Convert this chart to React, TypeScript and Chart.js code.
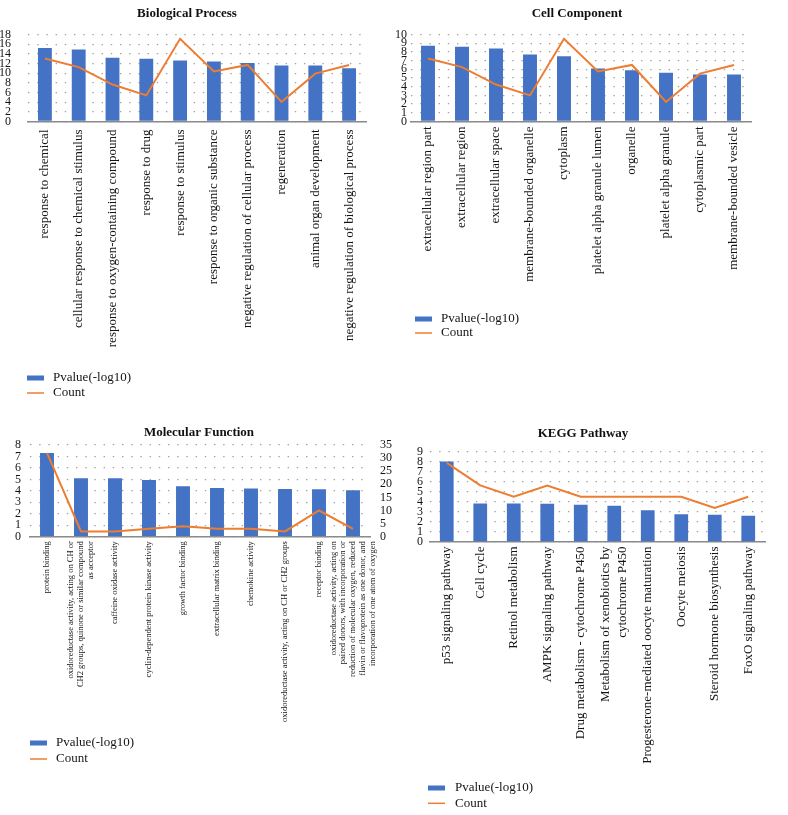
import React, { useEffect, useRef } from "react";
import { Chart, registerables } from "chart.js";

Chart.register(...registerables);

const FONT = '"Liberation Serif", "Times New Roman", serif';
const BAR_COLOR = "#4472C4";
const LINE_COLOR = "#ED7D31";
const GRID_COLOR = "#a2a2a2";
const AXIS_COLOR = "#8a8a8a";
const TEXT_COLOR = "#141414";

// ---------- Biological Process ----------
const BP_LABELS = [
  "response to chemical",
  "cellular response to chemical stimulus",
  "response to oxygen-containing compound",
  "response to drug",
  "response to stimulus",
  "response to organic substance",
  "negative regulation of cellular process",
  "regeneration",
  "animal organ development",
  "negative regulation of biological process",
];
const BP_PVALUE = [15.2, 14.9, 13.2, 13.0, 12.6, 12.4, 12.1, 11.6, 11.6, 11.0];
const BP_COUNT = [29, 25, 17, 12, 38, 23, 26, 9, 22, 26];

// ---------- Cell Component ----------
const CC_LABELS = [
  "extracellular region part",
  "extracellular region",
  "extracellular space",
  "membrane-bounded organelle",
  "cytoplasm",
  "platelet alpha granule lumen",
  "organelle",
  "platelet alpha granule",
  "cytoplasmic part",
  "membrane-bounded vesicle",
];
const CC_PVALUE = [8.7, 8.6, 8.4, 7.7, 7.5, 6.1, 5.9, 5.6, 5.4, 5.4];
const CC_COUNT = [29, 25, 17, 12, 38, 23, 26, 9, 22, 26];

// ---------- Molecular Function ----------
const MF_LABELS: (string | string[])[] = [
  "protein binding",
  ["oxidoreductase activity, acting on CH or", "CH2 groups, quinone or similar compound", "as acceptor"],
  "caffeine oxidase activity",
  "cyclin-dependent protein kinase activity",
  "growth factor binding",
  "extracellular matrix binding",
  "chemokine activity",
  "oxidoreductase activity, acting on CH or CH2 groups",
  "receptor binding",
  [
    "oxidoreductase activity, acting on",
    "paired donors, with incorporation or",
    "reduction of molecular oxygen, reduced",
    "flavin or flavoprotein as one donor, and",
    "incorporation of one atom of oxygen",
  ],
];
const MF_PVALUE = [7.3, 5.1, 5.1, 4.95, 4.4, 4.25, 4.2, 4.17, 4.15, 4.05];
const MF_COUNT = [32, 2, 2, 3, 4, 3, 3, 2, 10, 3];

// ---------- KEGG Pathway ----------
const KEGG_LABELS: (string | string[])[] = [
  "p53 signaling pathway",
  "Cell cycle",
  "Retinol metabolism",
  "AMPK signaling pathway",
  "Drug metabolism - cytochrome P450",
  ["Metabolism of xenobiotics by", "cytochrome P450"],
  "Progesterone-mediated oocyte maturation",
  "Oocyte meiosis",
  "Steroid hormone biosynthesis",
  "FoxO signaling pathway",
];
const KEGG_PVALUE = [8.0, 3.83, 3.83, 3.8, 3.7, 3.6, 3.15, 2.75, 2.7, 2.6];
const KEGG_COUNT = [7, 5, 4, 5, 4, 4, 4, 4, 3, 4];

const SERIES_NAMES = ["Pvalue(-log10)", "Count"];

type Panel = {
  title: string;
  labels: (string | string[])[];
  pvalue: number[];
  count: number[];
  leftMax: number;
  leftStep: number;
  rightMax: number;
  rightStep: number;
  x: number;
  y: number;
  w: number;
  h: number;
  padL: number;
  padR: number;
  area: { left: number; right: number; top: number; bottom: number };
  titleCenterY: number;
  leftTickPad: number;
  rightTickPad: number;
  labelFont: number;
  labelLH: number;
  labelGap: number;
  legend: { boxX: number; textX: number; y1: number; y2: number };
};

const PANELS: Panel[] = [
  {
    title: "Biological Process",
    labels: BP_LABELS,
    pvalue: BP_PVALUE,
    count: BP_COUNT,
    leftMax: 18,
    leftStep: 2,
    rightMax: 40,
    rightStep: 5,
    x: 0,
    y: 0,
    w: 394,
    h: 410,
    padL: 0,
    padR: 20,
    area: { left: 28, right: 366, top: 34.5, bottom: 121.5 },
    titleCenterY: 14,
    leftTickPad: 17,
    rightTickPad: 10,
    labelFont: 13,
    labelLH: 15,
    labelGap: 8,
    legend: { boxX: 27, textX: 53, y1: 378, y2: 393 },
  },
  {
    title: "Cell Component",
    labels: CC_LABELS,
    pvalue: CC_PVALUE,
    count: CC_COUNT,
    leftMax: 10,
    leftStep: 1,
    rightMax: 40,
    rightStep: 5,
    x: 394,
    y: 0,
    w: 394,
    h: 410,
    padL: 0,
    padR: 28,
    area: { left: 17, right: 357, top: 34.5, bottom: 121.5 },
    titleCenterY: 14,
    leftTickPad: 4,
    rightTickPad: 9,
    labelFont: 13,
    labelLH: 15,
    labelGap: 5,
    legend: { boxX: 21, textX: 47, y1: 319, y2: 333 },
  },
  {
    title: "Molecular Function",
    labels: MF_LABELS,
    pvalue: MF_PVALUE,
    count: MF_COUNT,
    leftMax: 8,
    leftStep: 1,
    rightMax: 35,
    rightStep: 5,
    x: 0,
    y: 410,
    w: 394,
    h: 405,
    padL: 4,
    padR: 0,
    area: { left: 30, right: 370, top: 35, bottom: 126.7 },
    titleCenterY: 22.7,
    leftTickPad: 9,
    rightTickPad: 10,
    labelFont: 8.5,
    labelLH: 9.8,
    labelGap: 4.5,
    legend: { boxX: 30, textX: 56, y1: 333, y2: 349 },
  },
  {
    title: "KEGG Pathway",
    labels: KEGG_LABELS,
    pvalue: KEGG_PVALUE,
    count: KEGG_COUNT,
    leftMax: 9,
    leftStep: 1,
    rightMax: 8,
    rightStep: 1,
    x: 394,
    y: 410,
    w: 394,
    h: 405,
    padL: 0,
    padR: 16,
    area: { left: 36, right: 371, top: 41.5, bottom: 132 },
    titleCenterY: 24,
    leftTickPad: 7,
    rightTickPad: 9,
    labelFont: 13,
    labelLH: 16.5,
    labelGap: 4.5,
    legend: { boxX: 34, textX: 61, y1: 378, y2: 393.3 },
  },
];

function buildConfig(p: Panel): any {
  const titleSize = 13;
  const titleLH = titleSize * 1.2;
  const titleTop = p.titleCenterY - titleLH / 2;
  const titleBottom = p.area.top - titleTop - titleLH;

  const catLabels = {
    id: "catLabels",
    afterDraw(chart: any) {
      const xs = chart.scales.x;
      const ctx = chart.ctx;
      ctx.save();
      ctx.fillStyle = TEXT_COLOR;
      ctx.font = `${p.labelFont}px ${FONT}`;
      ctx.textAlign = "right";
      ctx.textBaseline = "middle";
      const labels = chart.data.labels as (string | string[])[];
      labels.forEach((lab, i) => {
        const lines = Array.isArray(lab) ? lab : [lab];
        const px = xs.getPixelForValue(i);
        ctx.save();
        ctx.translate(px, xs.top + p.labelGap);
        ctx.rotate(-Math.PI / 2);
        const n = lines.length;
        lines.forEach((ln, j) => {
          ctx.fillText(ln, 0, (j - (n - 1) / 2) * p.labelLH);
        });
        ctx.restore();
      });
      ctx.restore();
    },
  };

  const legendPlugin = {
    id: "stackedLegend",
    afterDraw(chart: any) {
      const ctx = chart.ctx;
      const ds = chart.data.datasets;
      const L = p.legend;
      ctx.save();
      ctx.fillStyle = BAR_COLOR;
      ctx.fillRect(L.boxX, L.y1 - 2.5, 17, 5);
      ctx.strokeStyle = LINE_COLOR;
      ctx.lineWidth = 1.5;
      ctx.beginPath();
      ctx.moveTo(L.boxX, L.y2);
      ctx.lineTo(L.boxX + 17, L.y2);
      ctx.stroke();
      ctx.fillStyle = TEXT_COLOR;
      ctx.font = `13px ${FONT}`;
      ctx.textAlign = "left";
      ctx.textBaseline = "middle";
      ctx.fillText(ds[0].label, L.textX, L.y1);
      ctx.fillText(ds[1].label, L.textX, L.y2);
      ctx.restore();
    },
  };

  const tickFont = { family: FONT, size: 12 };

  return {
    type: "bar",
    data: {
      labels: p.labels,
      datasets: [
        {
          type: "bar",
          label: SERIES_NAMES[0],
          data: p.pvalue,
          backgroundColor: BAR_COLOR,
          yAxisID: "y",
          order: 2,
          categoryPercentage: 1,
          barPercentage: 0.41,
        },
        {
          type: "line",
          label: SERIES_NAMES[1],
          data: p.count,
          borderColor: LINE_COLOR,
          backgroundColor: LINE_COLOR,
          borderWidth: 2,
          pointRadius: 0,
          tension: 0,
          fill: false,
          yAxisID: "y1",
          order: 1,
        },
      ],
    },
    options: {
      responsive: false,
      animation: false,
      devicePixelRatio: 1,
      layout: { padding: { left: p.padL, right: p.padR, top: 0, bottom: 0 } },
      plugins: {
        legend: { display: false },
        tooltip: { enabled: false },
        title: {
          display: true,
          text: p.title,
          color: "#111",
          font: { family: FONT, size: titleSize, weight: "bold", lineHeight: 1.2 },
          padding: { top: titleTop, bottom: titleBottom },
        },
      },
      scales: {
        x: {
          type: "category",
          offset: true,
          grid: { display: false, drawTicks: false },
          border: { display: true, color: AXIS_COLOR, width: 1.6 },
          ticks: { display: false },
          afterFit: (s: any) => {
            s.height = p.h - p.area.bottom;
          },
        },
        y: {
          type: "linear",
          position: "left",
          min: 0,
          max: p.leftMax,
          ticks: {
            stepSize: p.leftStep,
            autoSkip: false,
            padding: p.leftTickPad,
            font: tickFont,
            color: TEXT_COLOR,
          },
          grid: { color: GRID_COLOR, lineWidth: 1.3, drawTicks: false },
          border: { display: false, dash: [1.4, 7.8] },
          afterFit: (s: any) => {
            s.width = p.area.left - p.padL;
          },
        },
        y1: {
          type: "linear",
          position: "right",
          min: 0,
          max: p.rightMax,
          ticks: {
            stepSize: p.rightStep,
            autoSkip: false,
            padding: p.rightTickPad,
            font: tickFont,
            color: TEXT_COLOR,
          },
          grid: { display: false, drawTicks: false },
          border: { display: false },
          afterFit: (s: any) => {
            s.width = p.w - p.padR - p.area.right;
          },
        },
      },
    },
    plugins: [catLabels, legendPlugin],
  };
}

function ChartPanel({ panel }: { panel: Panel }) {
  const ref = useRef<HTMLCanvasElement | null>(null);
  useEffect(() => {
    if (!ref.current) return;
    const chart = new Chart(ref.current, buildConfig(panel));
    return () => chart.destroy();
  }, [panel]);
  return (
    <div
      style={{
        position: "absolute",
        left: panel.x,
        top: panel.y,
        width: panel.w,
        height: panel.h,
      }}
    >
      <canvas
        ref={ref}
        width={panel.w}
        height={panel.h}
        style={{ display: "block", width: panel.w, height: panel.h }}
      />
    </div>
  );
}

export default function App() {
  return (
    <div
      style={{
        position: "absolute",
        left: 0,
        top: 0,
        width: 788,
        height: 815,
        background: "#ffffff",
        overflow: "hidden",
      }}
    >
      {PANELS.map((p) => (
        <ChartPanel key={p.title} panel={p} />
      ))}
    </div>
  );
}
